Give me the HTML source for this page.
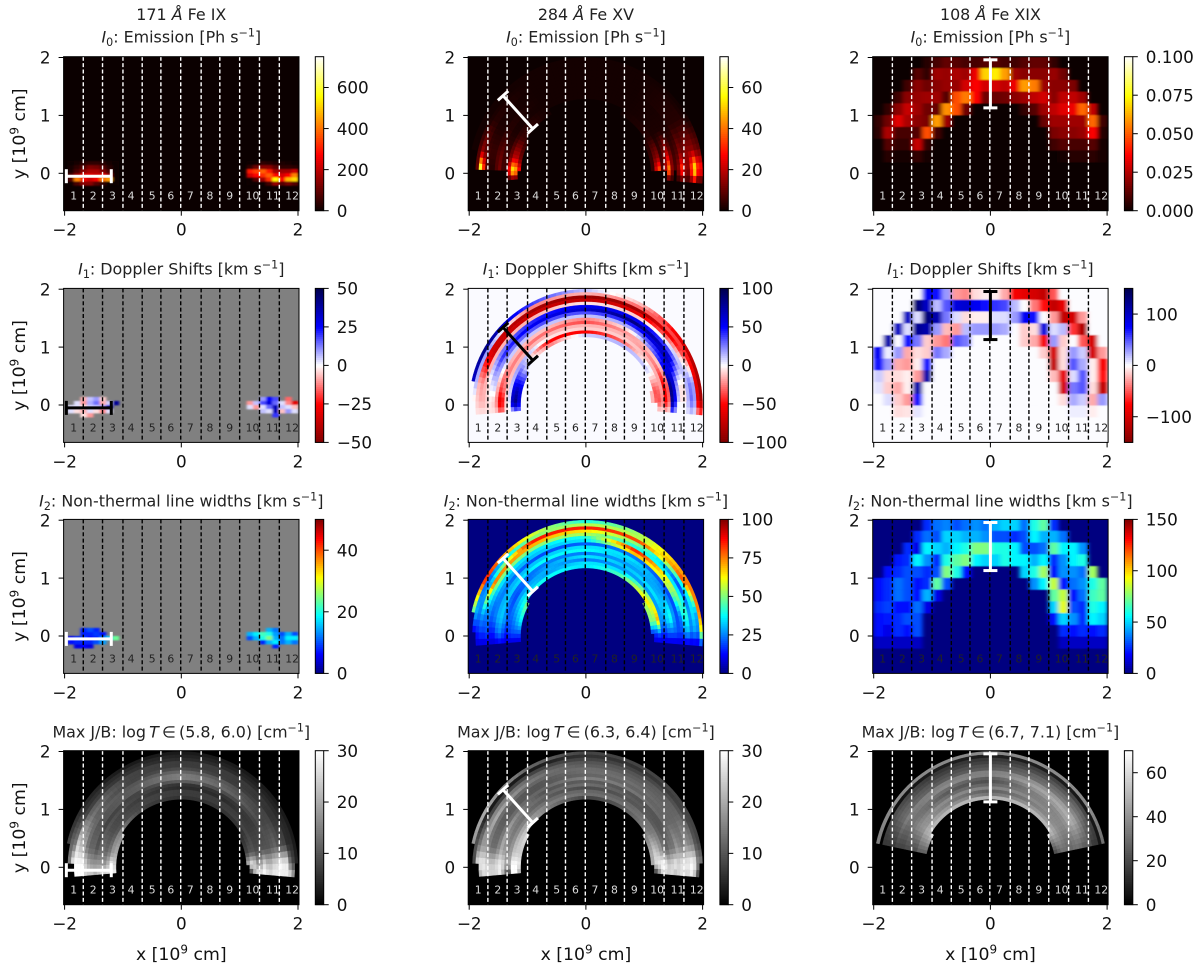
<!DOCTYPE html>
<html lang="en">
<head>
<meta charset="utf-8">
<title>Solar loop spectral moments</title>
<style>
html,body{margin:0;padding:0;background:#fff;width:1200px;height:970px;overflow:hidden}
svg{display:block;font-family:"DejaVu Sans","Liberation Sans",sans-serif;filter:blur(0.35px)}
</style>
</head>
<body>
<svg id="figure" xmlns="http://www.w3.org/2000/svg" width="1200" height="970" viewBox="0 0 1200 970"></svg>
<script>
/* ---------- shared axis data ---------- */
const xTicks = [-2, 0, 2];
const yTicks = [0, 1, 2];
const slitBoundaries = [-1.68, -1.35, -1.0, -0.67, -0.35, -0.01, 0.34, 0.66, 1.0, 1.34, 1.68];
const slitLabelPositions = [-1.845, -1.51, -1.18, -0.86, -0.5, -0.18, 0.155, 0.49, 0.83, 1.22, 1.57, 1.9];
const slitLabels = ["1","2","3","4","5","6","7","8","9","10","11","12"];
const columnHeaders = ["171", "284", "108"];
const columnIons = ["Fe IX", "Fe XV", "Fe XIX"];
const logTRanges = ["(5.8, 6.0)", "(6.3, 6.4)", "(6.7, 7.1)"];

/* colour bar ticks */
const ticksEmission171 = [0, 200, 400, 600];
const ticksDoppler171 = [-50, -25, 0, 25, 50];
const ticksWidth171 = [0, 20, 40];
const ticksJb171 = [0, 10, 20, 30];
const ticksEmission284 = [0, 20, 40, 60];
const ticksDoppler284 = [-100, -50, 0, 50, 100];
const ticksWidth284 = [0, 25, 50, 75, 100];
const ticksJb284 = [0, 10, 20, 30];
const ticksEmission108 = [0, 0.025, 0.05, 0.075, 0.1];
const ticksDoppler108 = [-100, 0, 100];
const ticksWidth108 = [0, 50, 100, 150];
const ticksJb108 = [0, 20, 40, 60];

/* slit bars: [x0, y0, x1, y1] in data units per column */
const rasterBar171 = [-1.97, -0.05, -1.2, -0.05];
const rasterBar284 = [-1.42, 1.34, -0.91, 0.77];
const rasterBar108 = [0, 1.96, 0, 1.13];

/* ---------- arch data: values per radial band (outer -> inner), per arch angle ---------- */
const archAngles = [185, 178, 168, 150, 120, 90, 60, 30, 12, 2, -5];
const archOuterRadius = 2.0;
const archBandWidth = 0.055;

const emission284 = [
[0,0,1,1,1,1,1,1,10,30,5],
[0,0,1,1,1,1,1,2,12,35,5],
[0,10,8,2,1,1,1,3,15,58,20],
[0,68,15,3,1,1,1,3,15,35,10],
[0,36,10,3,1,1,1,3,15,15,5],
[0,8,6,2,1,1,1,3,12,18,5],
[0,3,5,2,1,1,1,3,14,34,5],
[0,3,5,2,1,1,1,2,8,15,3],
[0,8,8,3,1,1,1,2,6,8,0],
[0,12,10,3,1,1,1,2,12,15,3],
[0,6,6,2,1,1,1,2,22,45,3],
[0,5,6,2,1,1,1,2,12,20,0],
[3,30,12,4,1,1,1,2,6,8,0],
[3,58,20,5,1,0,1,3,15,38,0],
[3,50,20,5,1,0,1,3,12,24,0],
[0,30,12,3,0,0,0,2,5,5,0]];

const doppler284 = [
[0,0,65,85,40,12,-15,-70,-85,-85,-30],
[0,-5,15,20,-25,-15,-30,-40,-60,-60,-20],
[-5,-10,-15,-65,-85,-90,-85,-40,20,20,5],
[-5,-15,-20,-70,-70,-75,-60,-15,25,30,10],
[-5,-15,-15,-15,-15,-5,-10,10,15,15,5],
[-5,-10,-5,25,45,55,55,35,-5,-5,0],
[-5,-5,5,40,55,65,85,60,-5,-5,0],
[-5,-10,10,25,35,35,45,70,20,10,0],
[-10,-25,-15,10,12,12,18,55,65,50,15],
[-25,-60,-35,-15,-12,-25,-5,45,85,80,30],
[-25,-50,-25,-25,-28,-35,-20,-10,-35,-30,-5],
[-5,-10,-10,-15,-15,-15,-15,-25,-55,-50,-10],
[0,5,10,20,-5,-10,-10,-15,-20,-25,-5],
[10,70,60,25,-50,-50,-30,5,-30,-35,-5],
[25,85,70,15,-25,10,15,10,-35,-30,0],
[25,60,60,20,0,0,0,0,-15,-15,0]];

const width284 = [
[0,0,45,85,60,40,55,75,75,60,10],
[0,10,30,22,50,55,55,80,30,25,8],
[8,15,25,30,85,85,80,38,35,28,8],
[8,18,28,75,70,65,50,20,28,25,8],
[8,18,25,50,50,55,40,35,42,30,8],
[8,20,25,35,35,40,85,55,38,28,8],
[8,15,22,28,32,35,70,55,25,20,8],
[8,15,25,25,20,22,25,20,20,20,8],
[8,22,30,30,32,35,35,25,28,22,8],
[10,25,32,32,38,38,32,28,40,22,8],
[10,20,28,22,25,25,28,30,35,22,8],
[8,15,22,20,28,35,32,35,28,18,8],
[8,18,22,28,30,25,28,28,28,18,8],
[8,20,25,35,28,35,35,55,70,22,8],
[8,20,30,40,38,35,45,65,50,18,8],
[8,20,35,50,0,0,0,55,50,15,0]];

const jb284 = [
[0,0,18,20,12,8,8,8,8,14,0],
[0,8,10,3,3,6,6,8,10,16,8],
[0,26,14,8,8,8,8,10,15,28,22],
[20,28,18,16,12,10,10,12,16,30,28],
[25,28,18,20,14,11,11,12,18,28,25],
[25,26,15,13,12,13,12,12,15,28,25],
[25,24,13,11,10,13,13,12,16,27,26],
[25,24,13,11,10,12,12,12,18,25,25],
[25,26,16,13,12,15,14,12,14,28,22],
[28,28,20,18,10,11,10,10,14,25,26],
[20,26,18,15,12,13,11,10,12,24,25],
[10,20,16,14,11,9,10,11,14,28,25],
[8,20,18,16,13,12,12,14,18,30,24],
[30,30,23,20,15,13,13,14,22,28,15],
[30,30,24,23,14,8,10,15,24,26,5],
[20,28,24,26,0,0,0,14,20,20,0]];

const jb171 = [
[0,0,8,5,3,3,3,3,3,4,0],
[0,15,12,6,5,4,4,4,5,8,20],
[0,28,14,8,6,5,5,5,5,14,28],
[30,30,25,12,8,7,7,6,8,28,28],
[30,30,22,14,8,7,7,6,9,28,28],
[30,30,20,12,8,9,7,8,10,30,28],
[25,25,14,12,10,12,10,8,12,26,28],
[25,20,12,10,11,15,11,8,11,25,28],
[25,18,12,10,11,15,12,9,10,22,26],
[22,18,10,8,8,11,9,8,10,22,28],
[25,18,12,10,8,6,6,7,10,26,30],
[28,18,13,9,7,5,5,7,9,20,28],
[28,18,12,9,8,7,7,7,9,18,28],
[28,22,14,10,8,7,7,8,10,25,20],
[30,28,18,15,7,6,6,6,10,28,5],
[28,25,20,16,0,0,0,5,8,22,0]];

const jb108 = [
[0,0,35,38,38,38,38,38,30,0,0],
[0,0,0,4,8,8,8,6,6,0,0],
[0,0,15,22,15,15,18,20,15,0,0],
[0,0,15,25,18,18,22,28,15,0,0],
[0,0,15,28,22,22,28,32,20,0,0],
[0,0,15,30,25,25,30,38,25,0,0],
[0,0,18,35,35,35,40,45,25,0,0],
[0,0,18,32,38,35,45,48,28,0,0],
[0,0,18,32,30,25,40,45,30,0,0],
[0,0,20,35,25,22,35,40,30,0,0],
[0,0,20,38,30,28,35,38,28,0,0],
[0,0,20,40,38,36,38,38,28,0,0],
[0,0,20,42,34,26,34,40,30,0,0],
[0,0,25,48,40,32,40,45,30,0,0],
[0,0,25,50,50,50,50,50,25,0,0],
[0,0,25,55,0,0,0,48,20,0,0]];

/* ---------- 108 A coarse raster: 24 columns across x, 13 rows from the top of the axes ---------- */
const rasterXMin = -2;
const rasterDx = 1 / 6;
const rasterYTop = 2.02;
const rasterDy = 0.203;

const emission108 = [
[0,0,0,0,0,.004,.009,.013,.011,.009,.009,.011,.011,.009,.008,.011,.013,.013,.006,0,0,0,0,0],
[0,0,0,0,.011,.006,.022,.021,.024,.022,.034,.068,.072,.060,.022,.019,.019,.019,.021,.015,0,0,0,0],
[0,0,0,.008,.019,.015,.019,.021,.021,.030,.036,.030,.030,.027,.034,.060,.055,.022,.019,.019,.017,0,0,0],
[0,0,.008,.019,.021,.022,.022,.011,.048,.055,.036,.015,.014,.015,.019,.022,.027,.030,.019,.027,.027,.022,0,0],
[0,.006,.019,.028,.022,.015,.014,.058,.048,.015,0,0,0,0,0,.006,.011,.022,.027,.032,.034,.052,.027,0],
[.006,.015,.032,.024,.019,.017,.060,.022,0,0,0,0,0,0,0,0,0,.014,.022,.022,.022,.022,.052,.008],
[.005,.024,.009,.009,.011,.048,.008,0,0,0,0,0,0,0,0,0,0,0,.017,.019,.019,.021,.036,.004],
[0,.011,.006,.006,.028,.006,0,0,0,0,0,0,0,0,0,0,0,0,.008,.011,.009,.009,.011,.002],
[0,.004,.002,.002,.006,.002,0,0,0,0,0,0,0,0,0,0,0,0,0,.002,.004,.004,.005,.002],
[0,0,0,0,0,0,0,0,0,0,0,0,0,0,0,0,0,0,0,0,0,0,0,0],
[0,0,0,0,0,0,0,0,0,0,0,0,0,0,0,0,0,0,0,0,0,0,0,0],
[0,0,0,0,0,0,0,0,0,0,0,0,0,0,0,0,0,0,0,0,0,0,0,0],
[0,0,0,0,0,0,0,0,0,0,0,0,0,0,0,0,0,0,0,0,0,0,0,0]];

const doppler108 = [
[1,1,1,1,1,80,70,30,-30,-35,-10,-5,-5,-25,-80,-90,-100,-110,-50,1,1,1,1,1],
[1,1,1,1,130,100,20,50,90,95,80,70,60,55,20,1,-40,-70,-110,-90,1,1,1,1],
[1,1,1,100,10,130,110,40,10,-10,-5,-5,10,10,30,80,70,1,-30,-110,-100,-30,1,1],
[1,1,100,10,120,110,30,-20,-30,20,30,30,30,25,1,-15,-10,90,10,20,-60,-120,1,1],
[1,110,1,70,40,-15,-30,-40,50,40,1,1,1,1,1,-15,-25,-80,30,-15,1,-50,-100,1],
[80,5,30,-25,-10,-15,40,25,1,1,1,1,1,1,1,1,1,-15,-100,-10,30,15,-100,-30],
[70,30,-25,-30,-5,70,1,1,1,1,1,1,1,1,1,1,1,1,-110,-10,50,25,-5,-80],
[15,-10,-10,-5,-30,110,1,1,1,1,1,1,1,1,1,1,1,1,-20,-90,10,50,-5,-70],
[8,-15,-25,-5,110,1,1,1,1,1,1,1,1,1,1,1,1,1,1,-100,40,50,-10,-110],
[1,10,-15,-30,70,1,1,1,1,1,1,1,1,1,1,1,1,1,1,-10,25,15,-25,30],
[1,1,-10,-8,8,1,1,1,1,1,1,1,1,1,1,1,1,1,1,1,5,5,-5,1],
[1,1,1,1,1,1,1,1,1,1,1,1,1,1,1,1,1,1,1,1,1,1,1,1],
[1,1,1,1,1,1,1,1,1,1,1,1,1,1,1,1,1,1,1,1,1,1,1,1]];

const width108 = [
[0,0,0,0,0,25,35,38,30,35,40,35,45,50,50,35,60,70,25,0,0,0,0,0],
[0,0,0,0,25,35,30,50,50,45,45,40,30,30,25,30,55,45,45,35,0,0,0,0],
[0,0,0,25,15,55,50,45,55,60,75,75,60,60,55,30,30,35,70,55,55,40,0,0],
[0,0,22,25,55,40,25,60,70,75,55,50,50,60,55,55,45,55,25,40,55,60,0,0],
[0,20,25,30,30,25,30,75,60,20,0,0,0,0,0,50,60,80,20,40,40,35,80,0],
[20,25,35,30,20,25,70,30,0,0,0,0,0,0,0,0,40,55,85,20,35,40,60,70],
[20,25,35,30,20,45,15,0,0,0,0,0,0,0,0,0,0,0,70,85,20,35,65,70],
[25,28,20,20,35,15,0,0,0,0,0,0,0,0,0,0,0,0,50,90,30,25,60,55],
[20,22,25,30,30,0,0,0,0,0,0,0,0,0,0,0,0,0,20,50,40,25,55,50],
[20,15,25,20,30,0,0,0,0,0,0,0,0,0,0,0,0,0,0,25,20,25,20,25],
[10,10,10,10,10,0,0,0,0,0,0,0,0,0,0,0,0,0,0,10,10,10,10,10],
[0,0,0,0,0,0,0,0,0,0,0,0,0,0,0,0,0,0,0,0,0,0,0,0],
[0,0,0,0,0,0,0,0,0,0,0,0,0,0,0,0,0,0,0,0,0,0,0,0]];

/* ---------- 171 A footpoint patches: 8 columns, 6 rows; null = no data ---------- */
const footDx = 0.11;
const footDy = 0.07;
const footYTop = 0.21;
const footLeftXMin = -1.95;
const footRightXMin = 1.12;

const emission171Left = [
[0,15,30,40,40,30,8,0],
[8,40,80,130,120,80,30,0],
[20,70,140,180,180,130,70,0],
[70,160,240,240,220,240,150,0],
[80,420,260,220,260,400,450,0],
[0,70,140,140,80,40,0,0]];
const emission171Right = [
[0,0,40,30,20,20,15,0],
[40,110,140,140,90,40,40,30],
[300,340,380,300,170,170,170,220],
[220,280,320,380,280,230,280,420],
[0,80,170,320,560,280,480,520],
[0,0,0,60,160,80,120,80]];
const doppler171Left = [
[null,null,null,null,null,null,null,null],
[null,null,-8,6,10,-5,null,null],
[null,3,-10,8,14,-8,5,40],
[3,3,-3,5,6,10,30,null],
[3,-3,-8,3,-3,-12,3,null],
[null,null,-3,-10,null,null,null,null]];
const doppler171Right = [
[null,null,null,null,null,null,null,null],
[null,null,10,25,18,null,-15,null],
[-10,6,18,30,15,3,-12,-30],
[3,-10,3,15,35,6,3,-6],
[null,null,6,3,35,-6,10,3],
[null,null,null,null,20,null,null,null]];
const width171Left = [
[null,null,null,null,null,null,null,null],
[null,null,8,10,8,null,null,null],
[null,null,8,8,9,7,null,null],
[6,8,9,7,8,12,16,24],
[7,8,8,8,10,14,null,null],
[null,5,6,5,null,null,null,null]];
const width171Right = [
[null,null,null,null,null,null,null,null],
[null,null,null,15,12,null,null,null],
[15,18,22,20,14,10,15,10],
[10,15,20,25,15,12,18,18],
[null,null,8,15,18,12,15,12],
[null,null,null,null,8,null,null,null]];

/* ---------- layout ---------- */
const columnCentres = [181.3, 585.9, 990.4];
const rowZeros = [173.3, 405, 636, 867.3];
const unitX = 58.35;
const unitY = 57.9;
const axHalfW = 117.7;
const axAbove = 116.6;
const axBelow = 37.4;
const cbOffset = 134;
const cbWidth = 8.4;
const tickFont = 16.8;
const axisFont = 17.3;
const titleFont = 15.9;

const svg = document.getElementById('figure');
const NS = 'http://www.w3.org/2000/svg';
function mk(tag, parent, attrs) {
  const el = document.createElementNS(NS, tag);
  for (const k in attrs) el.setAttribute(k, attrs[k]);
  parent.appendChild(el);
  return el;
}
function clamp(v) { return Math.max(0, Math.min(1, v)); }
function rgb(r, g, b) { return 'rgb(' + Math.round(clamp(r) * 255) + ',' + Math.round(clamp(g) * 255) + ',' + Math.round(clamp(b) * 255) + ')'; }
function hot(t) { return rgb(0.0416 + 0.9584 * t / 0.365, (t - 0.365) / 0.381, (t - 0.746) / 0.254); }
function gray(t) { return rgb(t, t, t); }
function jet(t) {
  return rgb(Math.min(4 * t - 1.5, -4 * t + 4.5), Math.min(4 * t - 0.5, -4 * t + 3.5), Math.min(4 * t + 0.5, -4 * t + 2.5));
}
function redBlue(t) {
  if (t < 0.25) return rgb(0.5 + 2 * t, 0, 0);
  if (t < 0.5) return rgb(1, (t - 0.25) * 4, (t - 0.25) * 4);
  if (t < 0.75) return rgb(1 - (t - 0.5) * 4, 1 - (t - 0.5) * 4, 1);
  return rgb(0, 0, 1 - (t - 0.75) * 2.8);
}
function fmtTick(v, decimals) {
  const s = decimals ? Math.abs(v).toFixed(decimals) : String(Math.abs(v));
  return (v < 0 ? '\u2212' : '') + s;
}
function titleMoment(n, rest) {
  return '<tspan font-style="italic">I</tspan><tspan dy="3.4" font-size="11.1">' + n + '</tspan><tspan dy="-3.4">: ' + rest + ' [</tspan>';
}
function unitSup(word) { return word + '<tspan dy="-6" font-size="11.1">\u22121</tspan><tspan dy="6">]</tspan>'; }

const panels = [
 {c:0,r:0,cmap:hot,vmin:0,vmax:750,ticks:ticksEmission171,ink:'#fff',bar:rasterBar171,left:emission171Left,right:emission171Right},
 {c:0,r:1,cmap:redBlue,vmin:-50,vmax:50,ticks:ticksDoppler171,ink:'#000',bar:rasterBar171,left:doppler171Left,right:doppler171Right,nan:true},
 {c:0,r:2,cmap:jet,vmin:0,vmax:50,ticks:ticksWidth171,ink:'#000',barInk:'#fff',bar:rasterBar171,left:width171Left,right:width171Right,nan:true},
 {c:0,r:3,cmap:gray,vmin:0,vmax:30,ticks:ticksJb171,ink:'#fff',bar:rasterBar171,arch:jb171},
 {c:1,r:0,cmap:hot,vmin:0,vmax:75,ticks:ticksEmission284,ink:'#fff',bar:rasterBar284,arch:emission284},
 {c:1,r:1,cmap:redBlue,vmin:-100,vmax:100,ticks:ticksDoppler284,ink:'#000',bar:rasterBar284,arch:doppler284,bg:1},
 {c:1,r:2,cmap:jet,vmin:0,vmax:100,ticks:ticksWidth284,ink:'#000',barInk:'#fff',bar:rasterBar284,arch:width284},
 {c:1,r:3,cmap:gray,vmin:0,vmax:30,ticks:ticksJb284,ink:'#fff',bar:rasterBar284,arch:jb284},
 {c:2,r:0,cmap:hot,vmin:0,vmax:0.1,ticks:ticksEmission108,ink:'#fff',bar:rasterBar108,grid:emission108,dec:3},
 {c:2,r:1,cmap:redBlue,vmin:-150,vmax:150,ticks:ticksDoppler108,ink:'#000',bar:rasterBar108,grid:doppler108,bg:1},
 {c:2,r:2,cmap:jet,vmin:0,vmax:150,ticks:ticksWidth108,ink:'#000',barInk:'#fff',bar:rasterBar108,grid:width108},
 {c:2,r:3,cmap:gray,vmin:0,vmax:70,ticks:ticksJb108,ink:'#fff',bar:rasterBar108,arch:jb108}
];

const defs = mk('defs', svg, {});
const smoothRaster = mk('filter', defs, {id: 'smoothRaster', x: '-5%', y: '-5%', width: '110%', height: '110%'});
mk('feGaussianBlur', smoothRaster, {stdDeviation: '2 0.4'});
const smoothFoot = mk('filter', defs, {id: 'smoothFoot', x: '-10%', y: '-30%', width: '120%', height: '160%'});
mk('feGaussianBlur', smoothFoot, {stdDeviation: '1.2 0.7'});

panels.forEach(function (p, idx) {
  const sx = function (v) { return columnCentres[p.c] + v * unitX; };
  const sy = function (v) { return rowZeros[p.r] - v * unitY; };
  const L = columnCentres[p.c] - axHalfW, R = columnCentres[p.c] + axHalfW;
  const T = rowZeros[p.r] - axAbove, B = rowZeros[p.r] + axBelow;
  const col = function (v) { return p.cmap((v - p.vmin) / (p.vmax - p.vmin)); };

  const g = mk('g', svg, {});
  
  

  const cp = mk('clipPath', defs, {id: 'clip' + idx});
  mk('rect', cp, {x: L, y: T, width: R - L, height: B - T});

  const plot = mk('g', g, {'clip-path': 'url(#clip' + idx + ')'});
  
  

  const bgRect = mk('rect', plot, {x: L, y: T, width: R - L, height: B - T,
    fill: p.nan ? '#808080' : col(p.bg !== undefined ? p.bg : 0)});
  
  

  /* arch: polar cells; a node value of 0 means no emission, so the band stops there */
  if (p.arch) {
    p.arch.forEach(function (band, b) {
      const r2 = archOuterRadius - b * archBandWidth, r1 = r2 - archBandWidth;
      for (let k = 0; k < archAngles.length - 1; k++) {
        if (band[k] === 0 || band[k + 1] === 0) continue;
        const a0 = archAngles[k], a1 = archAngles[k + 1];
        const steps = Math.max(1, Math.round((a0 - a1) / 3));
        for (let s = 0; s < steps; s++) {
          const f = (s + 0.5) / steps;
          const v = band[k] + (band[k + 1] - band[k]) * f;
          const t0 = (a0 + (a1 - a0) * s / steps) * Math.PI / 180;
          const t1 = (a0 + (a1 - a0) * (s + 1) / steps) * Math.PI / 180;
          const d = 'M' + sx(r1 * Math.cos(t0)).toFixed(2) + ' ' + sy(r1 * Math.sin(t0)).toFixed(2) +
            'L' + sx(r2 * Math.cos(t0)).toFixed(2) + ' ' + sy(r2 * Math.sin(t0)).toFixed(2) +
            'L' + sx(r2 * Math.cos(t1)).toFixed(2) + ' ' + sy(r2 * Math.sin(t1)).toFixed(2) +
            'L' + sx(r1 * Math.cos(t1)).toFixed(2) + ' ' + sy(r1 * Math.sin(t1)).toFixed(2) + 'Z';
          const c = col(v);
          const cell = mk('path', plot, {d: d, fill: c, stroke: c, 'stroke-width': 0.4});
          
          
        }
      }
    });
  }

  /* coarse raster */
  if (p.grid) {
    const cells = mk('g', plot, {filter: 'url(#smoothRaster)'});
    p.grid.forEach(function (rowVals, i) {
      rowVals.forEach(function (v, j) {
        if (v === 0) return;
        const x0 = rasterXMin + j * rasterDx, yTop = rasterYTop - i * rasterDy;
        const cell = mk('rect', cells, {x: sx(x0).toFixed(2), y: sy(yTop).toFixed(2),
          width: (rasterDx * unitX + 0.3).toFixed(2), height: (rasterDy * unitY + 0.3).toFixed(2), fill: col(v)});
        
        
      });
    });
  }

  /* footpoint patches */
  [[p.left, footLeftXMin], [p.right, footRightXMin]].forEach(function (pair) {
    if (!pair[0]) return;
    const cells = mk('g', plot, {filter: 'url(#smoothFoot)'});
    pair[0].forEach(function (rowVals, i) {
      rowVals.forEach(function (v, j) {
        if (v === null) return;
        const x0 = pair[1] + j * footDx, yTop = footYTop - i * footDy;
        const cell = mk('rect', cells, {x: sx(x0).toFixed(2), y: sy(yTop).toFixed(2),
          width: (footDx * unitX + 0.3).toFixed(2), height: (footDy * unitY + 0.3).toFixed(2), fill: col(v)});
        
        
      });
    });
  });

  /* slit boundaries */
  slitBoundaries.forEach(function (v) {
    const ln = mk('line', g, {x1: sx(v), x2: sx(v), y1: T, y2: B, stroke: p.ink, 'stroke-width': 1.4, 'stroke-dasharray': '4 2.4'});
    
    
  });
  slitLabels.forEach(function (s, i) {
    const t = mk('text', g, {x: sx(slitLabelPositions[i]), y: B - 11, 'text-anchor': 'middle', 'font-size': 10.8,
      fill: p.ink === '#fff' ? '#ddd' : '#222'});
    
    
    t.textContent = s;
  });

  /* slit-position bar */
  const bar = p.bar, barInk = p.barInk || p.ink;
  const px0 = sx(bar[0]), py0 = sy(bar[1]), px1 = sx(bar[2]), py1 = sy(bar[3]);
  const len = Math.hypot(px1 - px0, py1 - py0), nx = -(py1 - py0) / len * 7, ny = (px1 - px0) / len * 7;
  const barGroup = mk('g', g, {stroke: barInk, 'stroke-width': 3, fill: 'none'});
  
  
  mk('line', barGroup, {x1: px0, y1: py0, x2: px1, y2: py1});
  mk('line', barGroup, {x1: px0 - nx, y1: py0 - ny, x2: px0 + nx, y2: py0 + ny});
  mk('line', barGroup, {x1: px1 - nx, y1: py1 - ny, x2: px1 + nx, y2: py1 + ny});

  /* frame */
  const frame = mk('rect', g, {x: L, y: T, width: R - L, height: B - T, fill: 'none', stroke: '#000', 'stroke-width': 1});
  
  

  /* ticks */
  xTicks.forEach(function (v) {
    const tk = mk('line', g, {x1: sx(v), x2: sx(v), y1: B, y2: B + 5, stroke: '#000', 'stroke-width': 1});
    
    
    const t = mk('text', g, {x: sx(v), y: B + 25, 'text-anchor': 'middle', 'font-size': tickFont, fill: '#111'});
    
    
    t.textContent = fmtTick(v);
  });
  yTicks.forEach(function (v) {
    const tk = mk('line', g, {x1: L - 5, x2: L, y1: sy(v), y2: sy(v), stroke: '#000', 'stroke-width': 1});
    
    
    const t = mk('text', g, {x: L - 13, y: sy(v) + 6.2, 'text-anchor': 'end', 'font-size': tickFont, fill: '#111'});
    
    
    t.textContent = fmtTick(v);
  });

  /* titles */
  const titleY = T - (p.r < 2 ? 14 : 13);
  const title = mk('text', g, {x: columnCentres[p.c], y: titleY, 'text-anchor': 'middle', 'font-size': titleFont, fill: '#222'});
  
  
  if (p.r === 0) title.innerHTML = titleMoment(0, 'Emission') + unitSup('Ph s');
  if (p.r === 1) title.innerHTML = titleMoment(1, 'Doppler Shifts') + unitSup('km s');
  if (p.r === 2) title.innerHTML = titleMoment(2, 'Non-thermal line widths') + unitSup('km s');
  if (p.r === 3) title.innerHTML = 'Max J/B: log\u2009<tspan font-style="italic">T</tspan>\u2009\u2208\u2009' + logTRanges[p.c] + ' [' + unitSup('cm');
  if (p.r === 0) {
    const head = mk('text', g, {x: columnCentres[p.c], y: 20, 'text-anchor': 'middle', 'font-size': titleFont, fill: '#222'});
    
    
    head.innerHTML = columnHeaders[p.c] + ' <tspan font-style="italic">\u00C5</tspan> ' + columnIons[p.c];
  }

  /* axis titles */
  if (p.c === 0) {
    const yl = mk('text', g, {x: 0, y: 0, transform: 'translate(25,' + (rowZeros[p.r] - 39.5) + ') rotate(-90)', 'text-anchor': 'middle', 'font-size': axisFont, fill: '#111'});
    
    
    yl.innerHTML = 'y [10<tspan dy="-6.5" font-size="12">9</tspan><tspan dy="6.5"> cm]</tspan>';
  }
  if (p.r === 3) {
    const xl = mk('text', g, {x: columnCentres[p.c], y: 960, 'text-anchor': 'middle', 'font-size': axisFont, fill: '#111'});
    
    
    xl.innerHTML = 'x [10<tspan dy="-6.5" font-size="12">9</tspan><tspan dy="6.5"> cm]</tspan>';
  }

  /* colour bar */
  const cbL = columnCentres[p.c] + cbOffset, cbR = cbL + cbWidth;
  const cbar = mk('g', g, {});
  
  
  const strips = 80;
  for (let i = 0; i < strips; i++) {
    mk('rect', cbar, {x: cbL, y: B - (i + 1) * (B - T) / strips, width: cbWidth, height: (B - T) / strips + 0.4, fill: p.cmap((i + 0.5) / strips)});
  }
  mk('rect', cbar, {x: cbL, y: T, width: cbWidth, height: B - T, fill: 'none', stroke: '#000', 'stroke-width': 1});
  p.ticks.forEach(function (v) {
    const yy = B - (v - p.vmin) / (p.vmax - p.vmin) * (B - T);
    const tk = mk('line', g, {x1: cbR, x2: cbR + 5, y1: yy, y2: yy, stroke: '#000', 'stroke-width': 1});
    
    
    const t = mk('text', g, {x: cbR + 13, y: yy + 6.2, 'font-size': tickFont, fill: '#111'});
    
    
    t.textContent = fmtTick(v, p.dec);
  });
});
</script>
</body>
</html>
